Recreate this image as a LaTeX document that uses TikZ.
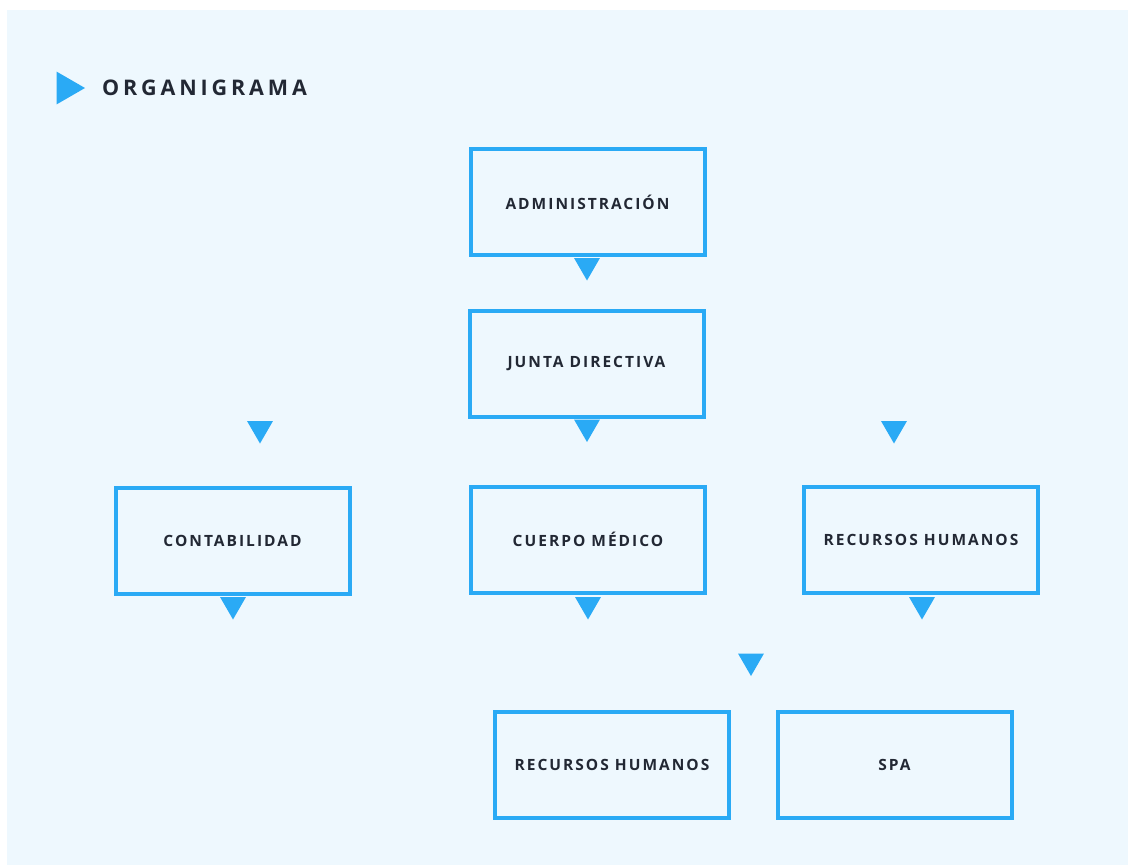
\documentclass[tikz,border=0pt]{standalone}
\usepackage{fontspec}
\setmainfont{Open Sans}
\newfontfamily\boxfont[LetterSpace=13]{Open Sans}
\newfontfamily\titlefont[LetterSpace=18]{Open Sans}
\usetikzlibrary{shapes.geometric}
\definecolor{sheet}{HTML}{EEF8FE}
\definecolor{unitblue}{HTML}{2AAAF5}
\definecolor{inkdark}{HTML}{222834}
\tikzset{
  unit/.style={draw=unitblue, line width=4pt, fill=sheet, minimum width=234pt, minimum height=106pt,
    inner sep=0pt, text=inkdark, font=\boxfont\bfseries\fontsize{15.5}{17}\selectfont},
  pointer/.style={regular polygon, regular polygon sides=3, shape border rotate=180, fill=unitblue,
    minimum size=30pt, inner sep=0pt, outer sep=0pt}
}
\begin{document}
\begin{tikzpicture}[x=1pt, y=-1pt]
        \useasboundingbox (0,0) rectangle (1128,865);
        \fill[sheet] (7,10) rectangle (1128,865);

        % title
        \node [regular polygon, regular polygon sides=3, shape border rotate=-90, fill=unitblue, minimum size=38pt, inner sep=0pt] (mark) at (66,88) {};
        \node [anchor=west, text=inkdark, font=\titlefont\bfseries\fontsize{21.5}{25}\selectfont, inner sep=0pt] (title) at (102,88) {ORGANIGRAMA};

        % boxes
        \node [unit] (admin) at (587.5,202) {ADMINISTRACIÓN};
        \node [unit] (junta) at (586.5,364) {JUNTA DIRECTIVA};
        \node [unit] (conta) at (232.5,540.5) {CONTABILIDAD};
        \node [unit] (medico) at (588,539.5) {CUERPO MÉDICO};
        \node [unit] (rrhh) at (921,539.5) {RECURSOS HUMANOS};
        \node [unit] (rrhhb) at (612,764.5) {RECURSOS HUMANOS};
        \node [unit] (spa) at (894.5,764.5) {SPA};

        % pointers
        \node [pointer] (p1) at (587,265.5) {};
        \node [pointer] (p2) at (587,427) {};
        \node [pointer] (p3) at (260,428.5) {};
        \node [pointer] (p4) at (894,428.5) {};
        \node [pointer] (p5) at (233,604.5) {};
        \node [pointer] (p6) at (588,604.5) {};
        \node [pointer] (p7) at (922,604.5) {};
        \node [pointer] (p8) at (751,661) {};
\end{tikzpicture}
\end{document}
